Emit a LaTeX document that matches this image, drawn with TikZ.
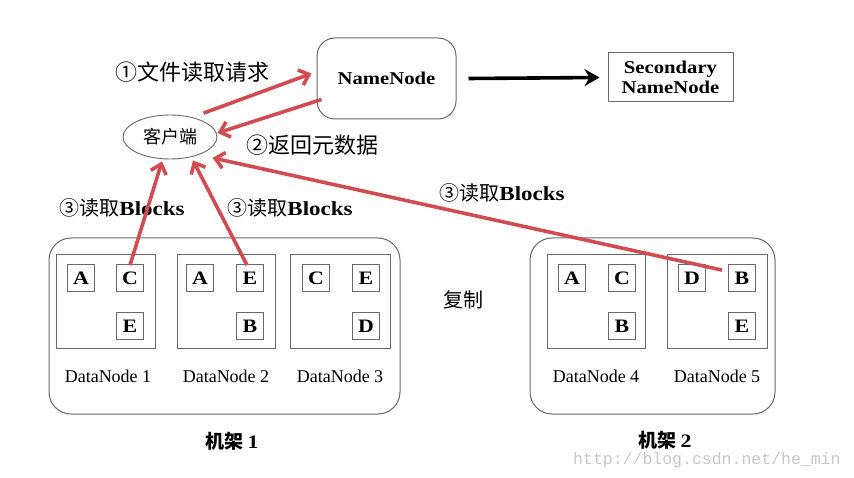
\documentclass[tikz,border=0pt]{standalone}
\usepackage{fontspec}
\setmainfont{Liberation Serif}
\newfontfamily\cjk{Noto Sans CJK SC}
\newfontfamily\wsf[FakeStretch=1.15]{Liberation Serif}
\newfontfamily\wmono{Liberation Mono}
\usetikzlibrary{arrows.meta,shapes.geometric,calc}
\definecolor{redarr}{RGB}{208,76,82}
\definecolor{edgegray}{RGB}{105,105,105}
\definecolor{wmgray}{RGB}{200,200,200}
\begin{document}
\begin{tikzpicture}[x=1pt,y=-1pt,
  rackbox/.style={draw=edgegray,line width=1pt,rounded corners=22pt,inner sep=0pt},
  dnbox/.style={draw=edgegray,line width=0.9pt,inner sep=0pt},
  blk/.style={draw=edgegray,line width=0.8pt,minimum width=27pt,minimum height=27pt,inner sep=0pt,font=\wsf\fontsize{19}{19}\bfseries\selectfont},
  dnlabel/.style={font=\fontsize{18}{18}\selectfont,inner sep=0pt},
  cjklabel/.style={font=\cjk\fontsize{20}{20}\selectfont,inner sep=0pt},
  bigcjk/.style={font=\cjk\fontsize{22}{22}\selectfont,inner sep=0pt},
  redar/.style={draw=redarr,line width=3.6pt,-{Straight Barb[length=9pt,width=16pt]}},
  blackar/.style={draw=black,line width=3.6pt,-{Stealth[length=15pt,width=17pt,inset=5pt]}}
]
\useasboundingbox (0,0) rectangle (854,478);
\fill[white] (0,0) rectangle (854,478);

% racks
\node[rackbox,minimum width=351pt,minimum height=176pt] (rack1) at (224.5,326) {};
\node[rackbox,minimum width=245pt,minimum height=176pt] (rack2) at (652.5,326) {};

% datanodes
\node[dnbox,minimum width=99pt,minimum height=94pt] (dn1) at (105.5,301) {};
\node[dnbox,minimum width=98pt,minimum height=94pt] (dn2) at (226,301) {};
\node[dnbox,minimum width=100pt,minimum height=94pt] (dn3) at (340,301) {};
\node[dnbox,minimum width=98pt,minimum height=94pt] (dn4) at (596,301) {};
\node[dnbox,minimum width=100pt,minimum height=94pt] (dn5) at (717,301) {};

% blocks
\node[blk] (b1a) at (81,278) {A};
\node[blk] (b1c) at (130,278) {C};
\node[blk] (b1e) at (130,326) {E};
\node[blk] (b2a) at (200,278) {A};
\node[blk] (b2e) at (250,278) {E};
\node[blk] (b2b) at (250,326) {B};
\node[blk] (b3c) at (316,278) {C};
\node[blk] (b3e) at (366,278) {E};
\node[blk] (b3d) at (366,326) {D};
\node[blk] (b4a) at (572,278) {A};
\node[blk] (b4c) at (622,278) {C};
\node[blk] (b4b) at (622,326) {B};
\node[blk] (b5d) at (692,278) {D};
\node[blk] (b5b) at (742,278) {B};
\node[blk] (b5e) at (742,326) {E};

% datanode labels
\node[dnlabel] (l1) at (108,376) {DataNode 1};
\node[dnlabel] (l2) at (226,376) {DataNode 2};
\node[dnlabel] (l3) at (340,376) {DataNode 3};
\node[dnlabel] (l4) at (596,376) {DataNode 4};
\node[dnlabel] (l5) at (717,376) {DataNode 5};

% namenode etc.
\node[draw=edgegray,line width=1pt,rounded corners=18pt,minimum width=139pt,minimum height=81pt,inner sep=0pt,font=\wsf\fontsize{18}{18}\bfseries\selectfont] (nn) at (386.5,78.5) {NameNode};
\node[draw=edgegray,line width=1pt,minimum width=125pt,minimum height=49pt,inner sep=0pt,align=center,font=\wsf\fontsize{18}{20}\bfseries\selectfont] (sec) at (670.5,77.5) {Secondary\\NameNode};
\node[draw=edgegray,line width=0.9pt,ellipse,minimum width=94pt,minimum height=44pt,inner sep=0pt,font=\cjk\fontsize{18}{18}\selectfont] (client) at (170,137) {客户端};

% labels
\node[bigcjk] (t1) at (192,72) {①文件读取请求};
\node[bigcjk] (t2) at (312,145) {②返回元数据};
\node[cjklabel] (t3) at (122,208) {③读取{\wsf\bfseries Blocks}};
\node[cjklabel] (t4) at (290,208) {③读取{\wsf\bfseries Blocks}};
\node[cjklabel] (t5) at (502,193) {③读取{\wsf\bfseries Blocks}};
\node[cjklabel] (copy) at (463,300) {复制};
\node[font=\cjk\fontsize{19}{19}\bfseries\selectfont,inner sep=0pt] (r1) at (232,441) {机架 {\wsf\bfseries 1}};
\node[font=\cjk\fontsize{19}{19}\bfseries\selectfont,inner sep=0pt] (r2) at (665,440) {机架 {\wsf\bfseries 2}};
\node[font=\wmono\fontsize{16.5}{16.5}\selectfont,text=wmgray,inner sep=0pt,anchor=west] (wm) at (573,460) {http://blog.csdn.net/he\_min};

% connectors
\draw[blackar] ([xshift=12pt]nn.east) -- ([xshift=-8pt]sec.west);
\draw[redar] ([yshift=8pt]client.north east) -- ([xshift=-5pt,yshift=5pt]nn.west);
\draw[redar] ([xshift=5pt,yshift=20pt]nn.south west) -- ([yshift=4pt]client.east);
\draw[redar] ([yshift=-1pt]b1c.north) -- ([xshift=-8pt,yshift=-2pt]client.south);
\draw[redar] ([xshift=-3pt,yshift=-1pt]b2e.north) -- ([xshift=23pt,yshift=-1pt]client.south);
\draw[redar] ([xshift=-6pt,yshift=-6pt]b5b.north west) -- ([xshift=9pt,yshift=-5pt]client.south east);
\end{tikzpicture}
\end{document}
